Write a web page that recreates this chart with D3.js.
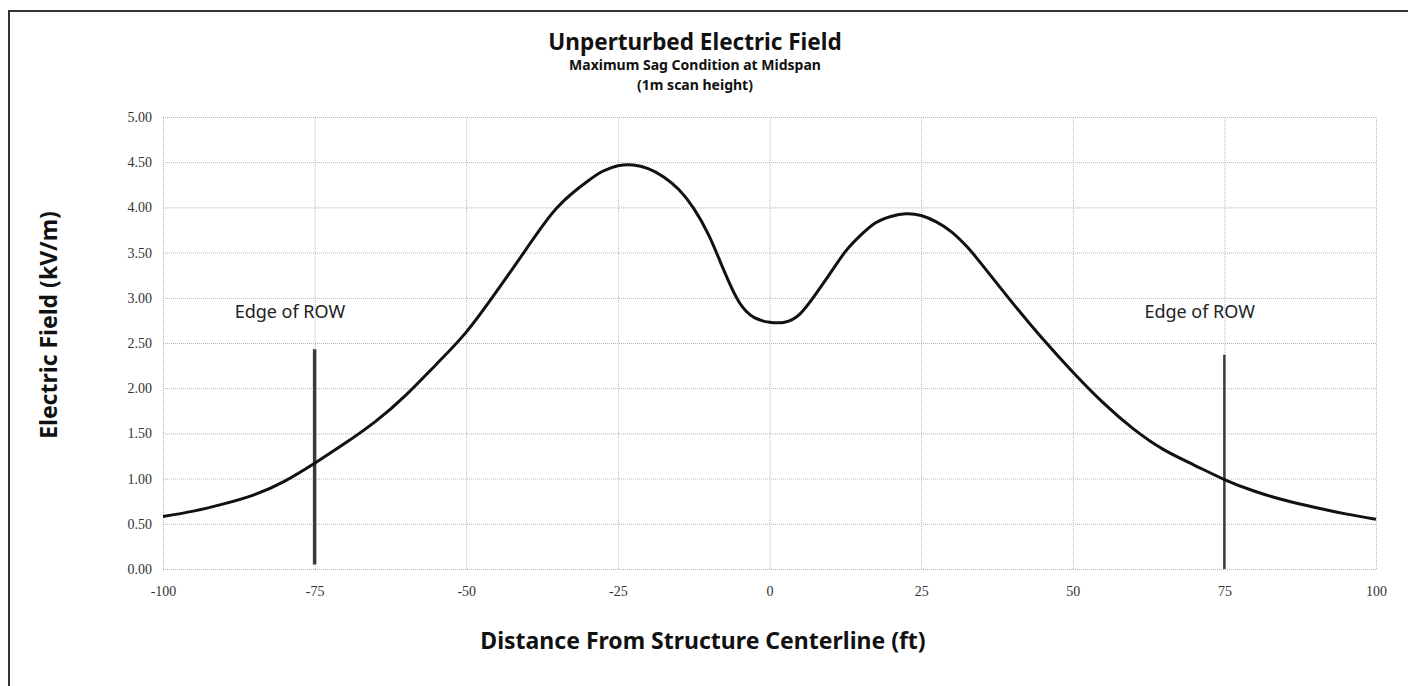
<!DOCTYPE html>
<html>
<head>
<meta charset="utf-8">
<script src="https://cdn.jsdelivr.net/npm/d3@7"></script>
<style>
    body { margin: 0; background: #fff; }
    .tick-label { font-family: "Liberation Serif", serif; font-size: 14px; }
    .chart-title { font-family: "Noto Sans", sans-serif; font-weight: bold; fill: #111; }
    .axis-title { font-family: "Noto Sans", sans-serif; font-weight: bold; font-size: 23px; fill: #111; }
    .annot { font-family: "Noto Sans", sans-serif; font-size: 18px; fill: #222; }
</style>
</head>
<body>
<div id="viz_container"></div>
<script>
// distance from centerline (ft) and field values (kV/m)
const distance = [-100, -95, -90, -85, -80, -75, -70, -65, -60, -55, -50, -45, -40, -35, -30, -27.5, -25, -22.5, -20, -17.5, -15, -12.5, -10, -7.5, -5, -2.5, 0, 2.5, 5, 7.5, 10, 12.5, 15, 17.5, 20, 22.5, 25, 27.5, 30, 32.5, 35, 40, 45, 50, 55, 60, 65, 70, 75, 80, 85, 90, 95, 100];
const field = [0.58, 0.64, 0.72, 0.82, 0.97, 1.17, 1.39, 1.63, 1.92, 2.26, 2.62, 3.07, 3.55, 4.00, 4.29, 4.40, 4.46, 4.47, 4.43, 4.34, 4.20, 3.99, 3.69, 3.30, 2.95, 2.78, 2.73, 2.73, 2.82, 3.03, 3.27, 3.51, 3.69, 3.83, 3.90, 3.93, 3.91, 3.84, 3.73, 3.57, 3.37, 2.95, 2.55, 2.18, 1.84, 1.55, 1.32, 1.15, 0.99, 0.86, 0.76, 0.68, 0.61, 0.55];

// edge of right-of-way markers: [x, bottom, top]
const rowLeft = [-75, 0.05, 2.43];
const rowRight = [75, 0.0, 2.37];
const rowLabel = "Edge of ROW";

const xTicks = [-100, -75, -50, -25, 0, 25, 50, 75, 100];
const yTicks = [0, 0.5, 1, 1.5, 2, 2.5, 3, 3.5, 4, 4.5, 5];

const W = 1408, H = 686;
const margin = { top: 117, right: 32, bottom: 117, left: 163 };
const width = W - margin.left - margin.right;
const height = H - margin.top - margin.bottom;

const svg = d3.select("#viz_container")
    .append("svg")
    .attr("width", W)
    .attr("height", H);

// outer frame (top and left edges visible)
svg.append("line").attr("x1", 9).attr("x2", W).attr("y1", 11).attr("y2", 11)
    .attr("stroke", "#333").attr("stroke-width", 2);
svg.append("line").attr("x1", 9).attr("x2", 9).attr("y1", 10).attr("y2", H)
    .attr("stroke", "#333").attr("stroke-width", 2);

const g = svg.append("g")
    .attr("transform", `translate(${margin.left}, ${margin.top})`);

const xScale = d3.scaleLinear().domain([-100, 100]).range([0, width]);
const yScale = d3.scaleLinear().domain([0, 5]).range([height, 0]);

// grid lines
g.append("g")
    .call(d3.axisLeft(yScale).tickValues(yTicks).tickSize(-width).tickFormat(""))
    .call(a => a.select(".domain").remove())
    .selectAll("line")
    .attr("stroke", "#b5b5b5")
    .attr("stroke-dasharray", "1,1");
g.append("g")
    .attr("transform", `translate(0,${height})`)
    .call(d3.axisBottom(xScale).tickValues(xTicks).tickSize(-height).tickFormat(""))
    .call(a => a.select(".domain").remove())
    .selectAll("line")
    .attr("stroke", "#b5b5b5")
    .attr("stroke-dasharray", "1,1");

// tick labels
g.append("g")
    .call(d3.axisLeft(yScale).tickValues(yTicks).tickSize(0).tickPadding(11).tickFormat(d3.format(".2f")))
    .call(a => a.select(".domain").remove())
    .selectAll("text").attr("class", "tick-label").attr("fill", "#333");
g.append("g")
    .attr("transform", `translate(0,${height})`)
    .call(d3.axisBottom(xScale).tickValues(xTicks).tickSize(0).tickPadding(17).tickFormat(d => String(d)))
    .call(a => a.select(".domain").remove())
    .selectAll("text").attr("class", "tick-label").attr("fill", "#333");

// edge of ROW markers
[rowLeft, rowRight].forEach((r, i) => {
    g.append("line")
        .attr("x1", xScale(r[0])).attr("x2", xScale(r[0]))
        .attr("y1", yScale(r[1])).attr("y2", yScale(r[2]))
        .attr("stroke", "#3a3a3a")
        .attr("stroke-width", i === 0 ? 3.5 : 2.5);
    g.append("text")
        .attr("class", "annot")
        .attr("x", xScale(r[0]) - 80)
        .attr("y", yScale(2.78))
        .text(rowLabel);
});

// field curve
const line = d3.line()
    .x((d, i) => xScale(distance[i]))
    .y(d => yScale(d))
    .curve(d3.curveNatural);
g.append("path")
    .datum(field)
    .attr("d", line)
    .attr("fill", "none")
    .attr("stroke", "#111")
    .attr("stroke-width", 3);

// titles
const cx = 695;
svg.append("text").attr("class", "chart-title")
    .attr("x", cx).attr("y", 50).attr("text-anchor", "middle")
    .style("font-size", "22.5px")
    .text("Unperturbed Electric Field");
svg.append("text").attr("class", "chart-title")
    .attr("x", cx).attr("y", 70).attr("text-anchor", "middle")
    .style("font-size", "14px")
    .text("Maximum Sag Condition at Midspan");
svg.append("text").attr("class", "chart-title")
    .attr("x", cx).attr("y", 89.5).attr("text-anchor", "middle")
    .style("font-size", "14px")
    .text("(1m scan height)");

svg.append("text").attr("class", "axis-title")
    .attr("x", 703).attr("y", 649).attr("text-anchor", "middle")
    .text("Distance From Structure Centerline (ft)");
svg.append("text").attr("class", "axis-title")
    .attr("transform", "translate(57,325) rotate(-90)")
    .attr("text-anchor", "middle")
    .text("Electric Field (kV/m)");
</script>
</body>
</html>
